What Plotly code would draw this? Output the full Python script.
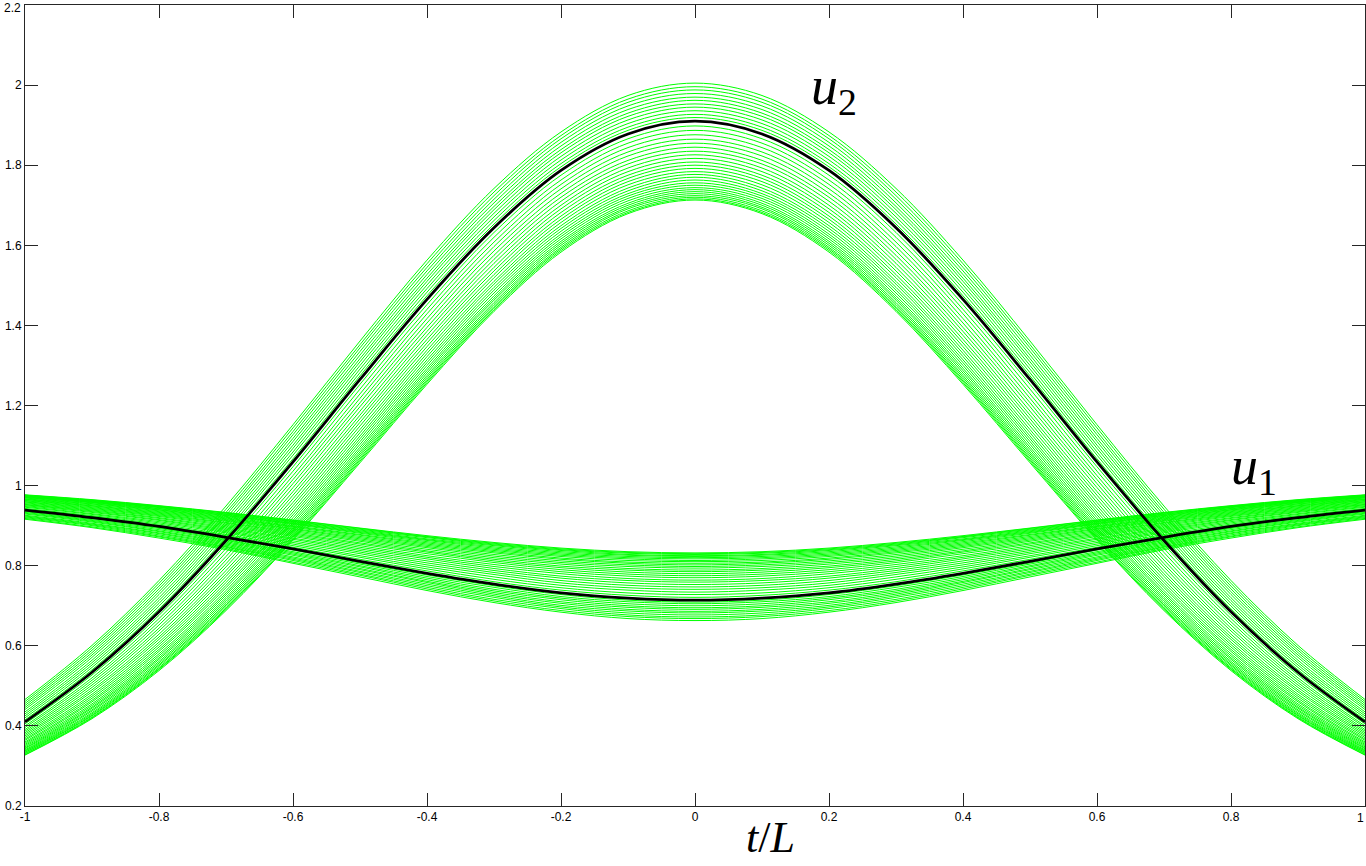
import plotly.graph_objects as go

# half-profile nodes (the picture is symmetric about t/L = 0)
X_NODES = [0.0, 0.1, 0.2, 0.3, 0.4, 0.5, 0.6, 0.7, 0.8, 0.9, 1.0]

U2_BLACK = [1.910, 1.878, 1.787, 1.644, 1.465, 1.265, 1.059, 0.863, 0.685, 0.534, 0.410]
U1_BLACK = [0.714, 0.719, 0.732, 0.754, 0.781, 0.811, 0.842, 0.871, 0.898, 0.920, 0.939]

U2_GREEN = [
    [1.919, 1.887, 1.796, 1.653, 1.474, 1.274, 1.067, 0.871, 0.692, 0.540, 0.415],
    [1.927, 1.895, 1.804, 1.662, 1.483, 1.282, 1.076, 0.879, 0.699, 0.546, 0.420],
    [1.936, 1.904, 1.813, 1.671, 1.492, 1.291, 1.084, 0.886, 0.706, 0.552, 0.425],
    [1.945, 1.913, 1.822, 1.680, 1.501, 1.300, 1.093, 0.894, 0.713, 0.558, 0.430],
    [1.953, 1.922, 1.831, 1.689, 1.510, 1.309, 1.101, 0.902, 0.720, 0.564, 0.435],
    [1.962, 1.930, 1.839, 1.697, 1.518, 1.317, 1.110, 0.910, 0.728, 0.571, 0.441],
    [1.970, 1.939, 1.848, 1.706, 1.527, 1.326, 1.118, 0.918, 0.735, 0.577, 0.446],
    [1.979, 1.948, 1.857, 1.715, 1.536, 1.335, 1.127, 0.926, 0.742, 0.583, 0.451],
    [1.988, 1.957, 1.866, 1.724, 1.545, 1.344, 1.135, 0.933, 0.749, 0.589, 0.456],
    [1.996, 1.965, 1.874, 1.733, 1.554, 1.352, 1.144, 0.941, 0.756, 0.595, 0.461],
    [2.005, 1.974, 1.883, 1.742, 1.563, 1.361, 1.152, 0.949, 0.763, 0.601, 0.466],
    [1.898, 1.866, 1.775, 1.632, 1.452, 1.253, 1.047, 0.853, 0.676, 0.527, 0.405],
    [1.887, 1.855, 1.763, 1.620, 1.440, 1.241, 1.036, 0.843, 0.668, 0.520, 0.400],
    [1.876, 1.844, 1.752, 1.608, 1.429, 1.229, 1.025, 0.833, 0.660, 0.514, 0.396],
    [1.865, 1.833, 1.741, 1.597, 1.417, 1.218, 1.015, 0.823, 0.652, 0.508, 0.391],
    [1.855, 1.823, 1.730, 1.586, 1.406, 1.207, 1.005, 0.814, 0.644, 0.502, 0.387],
    [1.845, 1.812, 1.720, 1.575, 1.395, 1.197, 0.995, 0.805, 0.637, 0.496, 0.383],
    [1.835, 1.803, 1.710, 1.565, 1.385, 1.186, 0.985, 0.797, 0.629, 0.490, 0.379],
    [1.826, 1.793, 1.700, 1.555, 1.375, 1.176, 0.976, 0.788, 0.622, 0.485, 0.375],
    [1.817, 1.784, 1.691, 1.545, 1.365, 1.167, 0.967, 0.780, 0.616, 0.479, 0.371],
    [1.808, 1.775, 1.682, 1.536, 1.356, 1.158, 0.958, 0.773, 0.609, 0.474, 0.367],
    [1.800, 1.767, 1.673, 1.527, 1.347, 1.149, 0.950, 0.765, 0.603, 0.469, 0.364],
    [1.792, 1.759, 1.665, 1.519, 1.338, 1.140, 0.942, 0.758, 0.597, 0.464, 0.360],
    [1.784, 1.751, 1.657, 1.510, 1.330, 1.132, 0.934, 0.751, 0.591, 0.460, 0.357],
    [1.777, 1.743, 1.649, 1.503, 1.322, 1.124, 0.927, 0.745, 0.586, 0.455, 0.354],
    [1.770, 1.736, 1.642, 1.495, 1.314, 1.117, 0.920, 0.738, 0.580, 0.451, 0.351],
    [1.763, 1.729, 1.635, 1.488, 1.307, 1.110, 0.913, 0.732, 0.575, 0.447, 0.348],
    [1.756, 1.723, 1.628, 1.481, 1.300, 1.103, 0.907, 0.727, 0.570, 0.444, 0.345],
    [1.750, 1.717, 1.622, 1.474, 1.293, 1.096, 0.901, 0.721, 0.566, 0.440, 0.343],
    [1.744, 1.711, 1.616, 1.468, 1.287, 1.090, 0.895, 0.716, 0.561, 0.437, 0.340],
    [1.739, 1.705, 1.610, 1.463, 1.281, 1.084, 0.890, 0.711, 0.557, 0.433, 0.338],
    [1.734, 1.700, 1.605, 1.457, 1.275, 1.079, 0.885, 0.706, 0.553, 0.430, 0.336],
    [1.729, 1.695, 1.600, 1.452, 1.270, 1.074, 0.880, 0.702, 0.550, 0.427, 0.334],
    [1.724, 1.691, 1.595, 1.447, 1.265, 1.069, 0.875, 0.698, 0.546, 0.425, 0.332],
    [1.720, 1.686, 1.591, 1.443, 1.261, 1.065, 0.871, 0.694, 0.543, 0.422, 0.330],
    [1.716, 1.682, 1.587, 1.439, 1.257, 1.061, 0.867, 0.691, 0.541, 0.420, 0.328],
    [1.713, 1.679, 1.583, 1.435, 1.253, 1.057, 0.864, 0.688, 0.538, 0.418, 0.327],
]

U1_GREEN = [
    [0.709, 0.714, 0.728, 0.750, 0.777, 0.807, 0.839, 0.868, 0.895, 0.918, 0.937],
    [0.705, 0.710, 0.723, 0.746, 0.773, 0.804, 0.835, 0.865, 0.893, 0.915, 0.935],
    [0.700, 0.705, 0.719, 0.741, 0.769, 0.800, 0.832, 0.863, 0.890, 0.913, 0.933],
    [0.695, 0.700, 0.715, 0.737, 0.765, 0.797, 0.829, 0.860, 0.887, 0.911, 0.931],
    [0.691, 0.696, 0.710, 0.733, 0.761, 0.793, 0.826, 0.857, 0.885, 0.909, 0.929],
    [0.686, 0.691, 0.706, 0.729, 0.758, 0.790, 0.822, 0.854, 0.882, 0.906, 0.926],
    [0.682, 0.687, 0.701, 0.725, 0.754, 0.786, 0.819, 0.851, 0.880, 0.904, 0.924],
    [0.677, 0.682, 0.697, 0.721, 0.750, 0.783, 0.816, 0.848, 0.877, 0.902, 0.922],
    [0.672, 0.677, 0.693, 0.716, 0.746, 0.779, 0.813, 0.846, 0.874, 0.900, 0.920],
    [0.668, 0.673, 0.688, 0.712, 0.742, 0.776, 0.809, 0.843, 0.872, 0.897, 0.918],
    [0.663, 0.668, 0.684, 0.708, 0.738, 0.772, 0.806, 0.840, 0.869, 0.895, 0.916],
    [0.721, 0.726, 0.739, 0.760, 0.787, 0.816, 0.846, 0.875, 0.901, 0.923, 0.941],
    [0.728, 0.732, 0.745, 0.766, 0.792, 0.821, 0.850, 0.878, 0.904, 0.925, 0.943],
    [0.734, 0.739, 0.751, 0.772, 0.797, 0.825, 0.854, 0.882, 0.907, 0.928, 0.946],
    [0.741, 0.745, 0.757, 0.778, 0.802, 0.830, 0.858, 0.885, 0.910, 0.930, 0.948],
    [0.747, 0.751, 0.763, 0.783, 0.807, 0.834, 0.862, 0.888, 0.913, 0.933, 0.950],
    [0.753, 0.757, 0.769, 0.788, 0.812, 0.838, 0.866, 0.891, 0.915, 0.935, 0.952],
    [0.759, 0.763, 0.774, 0.793, 0.817, 0.842, 0.869, 0.894, 0.918, 0.937, 0.953],
    [0.764, 0.768, 0.780, 0.798, 0.821, 0.846, 0.873, 0.897, 0.920, 0.939, 0.955],
    [0.770, 0.774, 0.785, 0.803, 0.825, 0.850, 0.876, 0.900, 0.923, 0.941, 0.957],
    [0.775, 0.779, 0.790, 0.808, 0.830, 0.854, 0.879, 0.903, 0.925, 0.943, 0.959],
    [0.780, 0.784, 0.795, 0.812, 0.834, 0.857, 0.882, 0.906, 0.927, 0.945, 0.960],
    [0.785, 0.789, 0.799, 0.816, 0.837, 0.861, 0.885, 0.908, 0.929, 0.947, 0.962],
    [0.789, 0.793, 0.804, 0.820, 0.841, 0.864, 0.888, 0.911, 0.931, 0.949, 0.963],
    [0.794, 0.798, 0.808, 0.824, 0.845, 0.867, 0.891, 0.913, 0.933, 0.950, 0.965],
    [0.798, 0.802, 0.812, 0.828, 0.848, 0.870, 0.893, 0.915, 0.935, 0.952, 0.966],
    [0.802, 0.806, 0.816, 0.832, 0.851, 0.873, 0.896, 0.917, 0.937, 0.954, 0.967],
    [0.806, 0.809, 0.819, 0.835, 0.854, 0.876, 0.898, 0.919, 0.939, 0.955, 0.969],
    [0.810, 0.813, 0.823, 0.838, 0.857, 0.878, 0.900, 0.921, 0.940, 0.957, 0.970],
    [0.813, 0.817, 0.826, 0.841, 0.860, 0.881, 0.903, 0.923, 0.942, 0.958, 0.971],
    [0.817, 0.820, 0.829, 0.844, 0.863, 0.883, 0.905, 0.925, 0.943, 0.959, 0.972],
    [0.820, 0.823, 0.832, 0.847, 0.865, 0.885, 0.906, 0.926, 0.945, 0.960, 0.973],
    [0.823, 0.826, 0.835, 0.850, 0.867, 0.887, 0.908, 0.928, 0.946, 0.961, 0.974],
    [0.825, 0.828, 0.838, 0.852, 0.870, 0.889, 0.910, 0.929, 0.947, 0.962, 0.975],
    [0.828, 0.831, 0.840, 0.854, 0.872, 0.891, 0.911, 0.931, 0.948, 0.963, 0.976],
    [0.830, 0.833, 0.842, 0.856, 0.873, 0.893, 0.913, 0.932, 0.949, 0.964, 0.976],
    [0.832, 0.835, 0.844, 0.858, 0.875, 0.894, 0.914, 0.933, 0.950, 0.965, 0.977],
]

X_TICKS = [-1, -0.8, -0.6, -0.4, -0.2, 0, 0.2, 0.4, 0.6, 0.8, 1]
X_TICK_TEXT = ["-1", "-0.8", "-0.6", "-0.4", "-0.2", "0", "0.2", "0.4", "0.6", "0.8", "1"]
Y_TICKS = [0.2, 0.4, 0.6, 0.8, 1.0, 1.2, 1.4, 1.6, 1.8, 2.0, 2.2]
Y_TICK_TEXT = ["0.2", "0.4", "0.6", "0.8", "1", "1.2", "1.4", "1.6", "1.8", "2", "2.2"]


def mirror(vals):
    return list(vals[:0:-1]) + list(vals)


X_FULL = [-v for v in X_NODES[:0:-1]] + list(X_NODES)

fig = go.Figure()
for row in U2_GREEN + U1_GREEN:
    fig.add_trace(go.Scatter(x=X_FULL, y=mirror(row), mode="lines",
                             line=dict(color="#00ff00", width=1, shape="spline", smoothing=1.0),
                             hoverinfo="skip", showlegend=False))
for row in (U2_BLACK, U1_BLACK):
    fig.add_trace(go.Scatter(x=X_FULL, y=mirror(row), mode="lines",
                             line=dict(color="#000000", width=2.8, shape="spline", smoothing=1.0),
                             showlegend=False))

tick_font = dict(family="Liberation Sans, Arial, sans-serif", size=12, color="#000000")
axis_common = dict(showgrid=False, zeroline=False, showline=True, linecolor="#262626",
                   linewidth=1, mirror="ticks", ticks="inside", ticklen=13,
                   tickcolor="#262626", tickwidth=1, automargin=False,
                   ticklabeloverflow="allow", tickfont=tick_font)

# edge labels (last x tick, top y tick) are drawn as annotations nudged inside the page
x_text_axis = X_TICK_TEXT[:-1] + [""]
y_text_axis = Y_TICK_TEXT[:-1] + [""]
fig.update_xaxes(range=[-1, 1], tickvals=X_TICKS, ticktext=x_text_axis, **axis_common)
fig.update_yaxes(range=[0.2, 2.2], tickvals=Y_TICKS, ticktext=y_text_axis, **axis_common)

fig.add_annotation(x=X_TICKS[-1], y=0, xref="x", yref="paper", text=X_TICK_TEXT[-1],
                   showarrow=False, xanchor="right", yanchor="top", yshift=-3, xshift=1,
                   font=tick_font)
fig.add_annotation(x=-1, y=Y_TICKS[-1], xref="x", yref="y", text=Y_TICK_TEXT[-1],
                   showarrow=False, xanchor="right", yanchor="middle", xshift=-2, yshift=-3,
                   font=tick_font)

serif = "Liberation Serif, DejaVu Serif, serif"
fig.add_annotation(x=0.112, y=-0.072, xref="x", yref="paper", showarrow=False,
                   text="<i>t</i>/<i>L</i>", font=dict(family=serif, size=44, color="#000000"),
                   xanchor="center", yanchor="bottom")
fig.add_annotation(x=0.170, y=1.99, xref="x", yref="y", showarrow=False,
                   text="<i>u</i><sub>2</sub>", font=dict(family=serif, size=54, color="#000000"),
                   xanchor="left", yanchor="middle")
fig.add_annotation(x=0.797, y=1.04, xref="x", yref="y", showarrow=False,
                   text="<i>u</i><sub>1</sub>", font=dict(family=serif, size=54, color="#000000"),
                   xanchor="left", yanchor="middle")

fig.update_layout(width=1366, height=866, paper_bgcolor="white", plot_bgcolor="white",
                  margin=dict(l=25, r=1, t=5, b=60), showlegend=False)

fig.write_html("out.html", config={"displayModeBar": False},
               post_script="document.body.style.margin='0px';document.body.style.overflow='hidden';")
